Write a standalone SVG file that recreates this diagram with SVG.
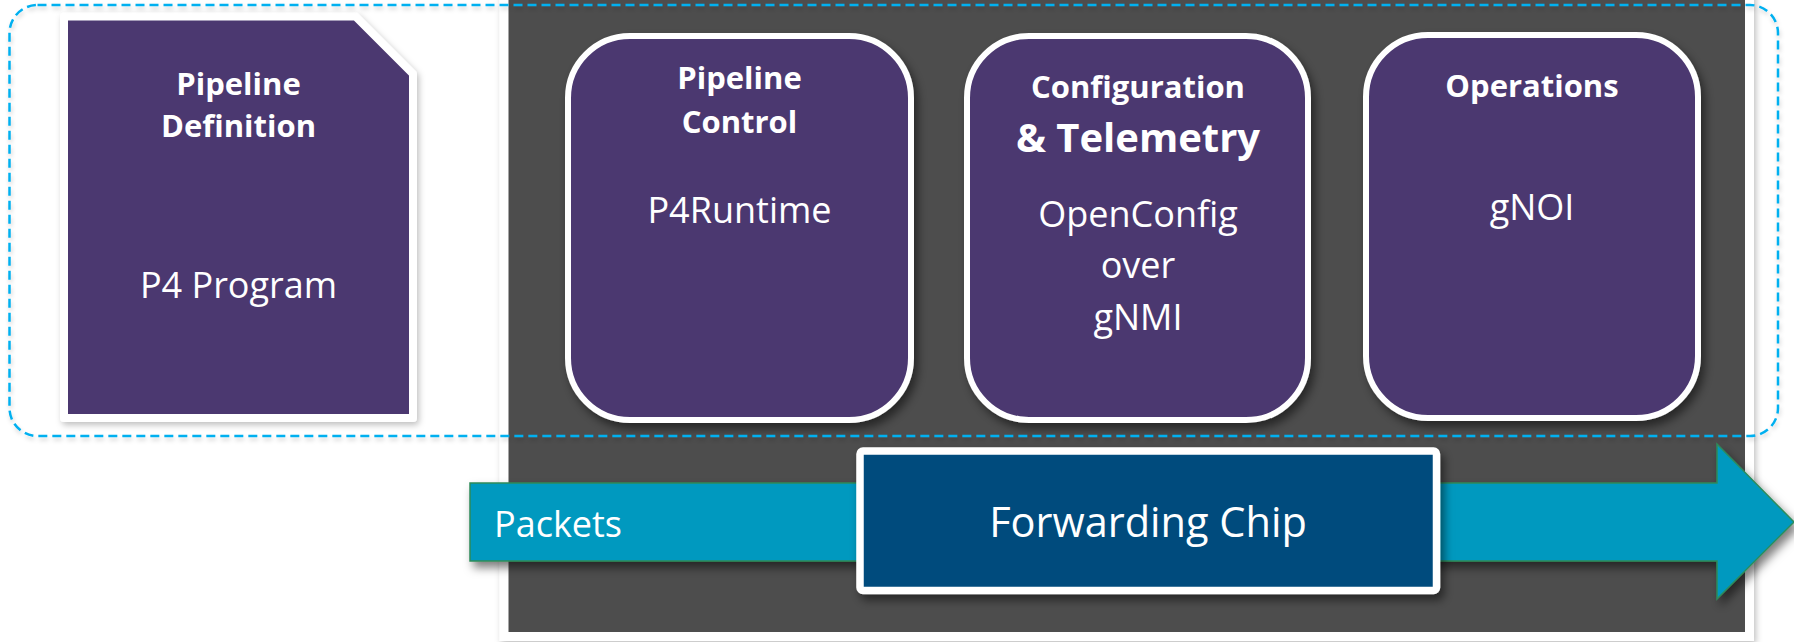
<svg xmlns="http://www.w3.org/2000/svg" width="1794" height="642" viewBox="0 0 1794 642">
  <style>
    .t { font-family: "Open Sans", "Noto Sans", "Liberation Sans", sans-serif; fill: #ffffff; text-anchor: middle; }
    .h { font-weight: bold; font-size: 31px; }
    .b { font-size: 36px; }
    .box { fill: #4B3870; stroke: #ffffff; stroke-width: 6; }
  </style>
  <defs>
    <filter id="shLight" x="-10%" y="-10%" width="120%" height="120%">
      <feDropShadow dx="2" dy="3" stdDeviation="3" flood-color="#000" flood-opacity="0.25"/>
    </filter>
    <filter id="shDark" x="-10%" y="-10%" width="130%" height="130%">
      <feDropShadow dx="4" dy="6" stdDeviation="5" flood-color="#000" flood-opacity="0.5"/>
    </filter>
    <filter id="shDash" x="-5%" y="-5%" width="110%" height="115%">
      <feDropShadow dx="1" dy="3" stdDeviation="2" flood-color="#000" flood-opacity="0.18"/>
    </filter>
  </defs>
  <rect x="0" y="0" width="1794" height="642" fill="#ffffff"/>

  <g id="panel">
    <rect x="504" y="-10" width="1245.5" height="646.5" fill="#4D4D4D" stroke="#ffffff" stroke-width="9" filter="url(#shLight)"/>
  </g>

  <g id="pipeline-definition">
    <path d="M64,16.5 L355.5,16.5 L413,74 L413,418 L64,418 Z" fill="#4B3870" stroke="#ffffff" stroke-width="8" stroke-linejoin="round" filter="url(#shLight)"/>
    <text class="t h" x="238.5" y="95">Pipeline</text>
    <text class="t h" x="238.5" y="137">Definition</text>
    <text class="t b" x="238.5" y="298">P4 Program</text>
  </g>

  <g id="pipeline-control">
    <rect class="box" x="568" y="36" width="343" height="384" rx="62" filter="url(#shDark)"/>
    <text class="t h" x="739.5" y="89">Pipeline</text>
    <text class="t h" x="739.5" y="133">Control</text>
    <text class="t b" x="739.5" y="223">P4Runtime</text>
  </g>

  <g id="config-telemetry">
    <rect class="box" x="967" y="36" width="341" height="384" rx="62" filter="url(#shDark)"/>
    <text class="t h" x="1138" y="98">Configuration</text>
    <text class="t" x="1138" y="152" font-weight="bold" font-size="40">&amp; Telemetry</text>
    <text class="t b" x="1138" y="227">OpenConfig</text>
    <text class="t b" x="1138" y="278">over</text>
    <text class="t b" x="1138" y="330">gNMI</text>
  </g>

  <g id="operations">
    <rect class="box" x="1366" y="35" width="332" height="383" rx="62" filter="url(#shDark)"/>
    <text class="t h" x="1532" y="97">Operations</text>
    <text class="t b" x="1532" y="220">gNOI</text>
  </g>

  <g id="connectors">
    <path id="packets-arrow" d="M470,483 L1717,483 L1717,444 L1794,522 L1717,599 L1717,561 L470,561 Z" fill="#0099BF" stroke="#2E8B5A" stroke-width="1.5" filter="url(#shDark)"/>
    <text class="t b" x="494" y="537" style="text-anchor:start">Packets</text>
  </g>

  <g id="forwarding-chip">
    <rect x="860" y="451" width="576.5" height="139.5" rx="3" fill="#004B7D" stroke="#ffffff" stroke-width="7.5" filter="url(#shDark)"/>
    <text class="t" x="1148" y="537" font-size="41.5">Forwarding Chip</text>
  </g>

  <g id="boundary">
    <rect x="9.5" y="5" width="1768.5" height="431" rx="28" fill="none" stroke="#00B0F0" stroke-width="2.5" stroke-dasharray="9,5" filter="url(#shDash)"/>
  </g>
</svg>
